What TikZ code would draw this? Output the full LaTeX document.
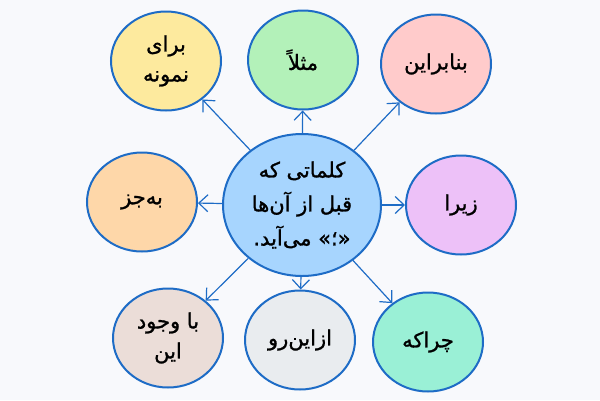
\documentclass[tikz,border=0pt]{standalone}
\usepackage{fontspec}
\newfontfamily\arabicfont[Script=Arabic,FakeBold=1.2]{DejaVu Sans}
\TeXXeTstate=1
\usetikzlibrary{shapes.geometric,arrows.meta}
\definecolor{bg}{HTML}{F8F9FC}
\definecolor{edge}{HTML}{1E6CC6}
\definecolor{hubfill}{HTML}{A7D5FE}
\definecolor{yellowfill}{HTML}{FDEA9E}
\definecolor{greenfill}{HTML}{B3F1B9}
\definecolor{pinkfill}{HTML}{FFCBCB}
\definecolor{orangefill}{HTML}{FED7A9}
\definecolor{purplefill}{HTML}{EDC1F8}
\definecolor{brownfill}{HTML}{EBDDD8}
\definecolor{grayfill}{HTML}{E9ECEF}
\definecolor{tealfill}{HTML}{9AF0D6}
\begin{document}
\begin{tikzpicture}[x=1pt,y=-1pt,
    bubble/.style={ellipse,draw=edge,line width=2pt,minimum width=110pt,
      minimum height=99pt,inner sep=0pt,align=center,
      font=\arabicfont\fontsize{21}{30}\selectfont},
    link/.style={draw=edge,line width=1.2pt,-{Straight Barb[length=9pt,width=17pt]}}]
  \fill[bg] (0,0) rectangle (600,400);
  % hub
  \node[bubble,fill=hubfill,minimum width=158pt,minimum height=142pt,
    font=\arabicfont\fontsize{21}{34}\selectfont] (hub) at (302,205)
    {\beginR کلماتی که\endR\\\beginR قبل از آن‌ها\endR\\\beginR «؛» می‌آید.\endR};
  % words
  \node[bubble,fill=yellowfill] (nemune) at (166,61) {\beginR برای\endR\\\beginR نمونه\endR};
  \node[bubble,fill=greenfill] (masalan) at (303,60) {\beginR مثلاً\endR};
  \node[bubble,fill=pinkfill] (banabarin) at (436,64) {\beginR بنابراین\endR};
  \node[bubble,fill=orangefill] (bejoz) at (142,202) {\beginR به‌جز\endR};
  \node[bubble,fill=purplefill] (zira) at (461,205) {\beginR زیرا\endR};
  \node[bubble,fill=brownfill] (bavojud) at (168,338) {\beginR با وجود\endR\\\beginR این\endR};
  \node[bubble,fill=grayfill] (azinru) at (300,340) {\beginR ازاین‌رو\endR};
  \node[bubble,fill=tealfill] (cherake) at (428,342) {\beginR چراکه\endR};
  % arrows
  \foreach \n in {nemune,masalan,banabarin,bejoz,zira,bavojud,azinru,cherake}
    \draw[link] (hub) -- (\n);
\end{tikzpicture}
\end{document}
